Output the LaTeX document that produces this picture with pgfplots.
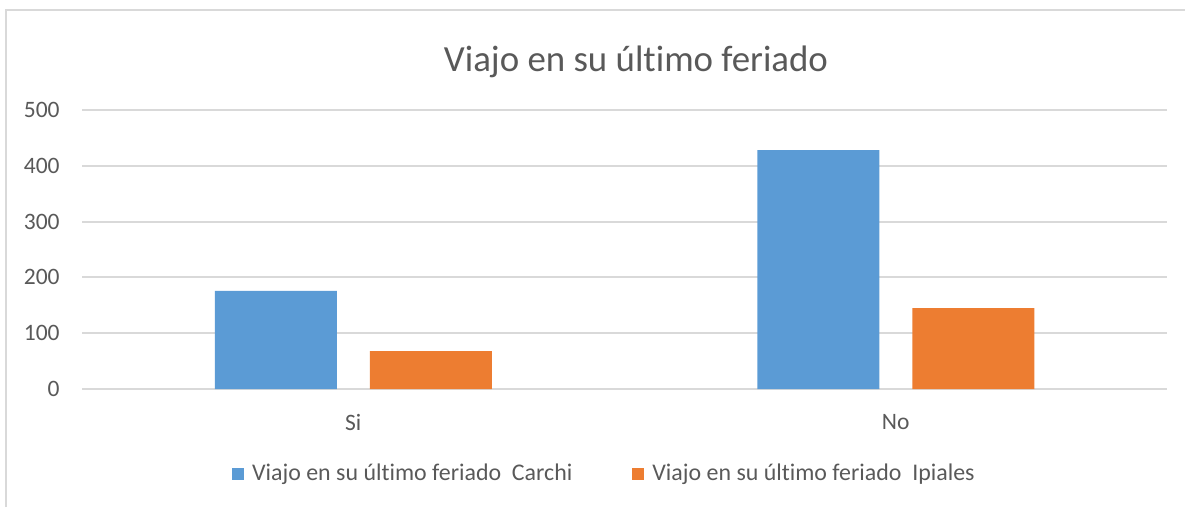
\documentclass[border=0pt]{standalone}
\usepackage{fontspec}
\setmainfont[Ligatures={NoCommon,NoContextual}]{Carlito}
\usepackage{pgfplots}
\pgfplotsset{compat=1.18}
\definecolor{cblue}{HTML}{5B9BD5}
\definecolor{corange}{HTML}{ED7D31}
\definecolor{gridc}{HTML}{D9D9D9}
\definecolor{txt}{HTML}{595959}
\newcommand{\ultimo}{últ\kern0pt imo}
\begin{document}
\begin{tikzpicture}[x=1bp,y=1bp]
\useasboundingbox (0,0) rectangle (592.5,253.5);
\draw[gridc, line width=1bp] (3,0) -- (3,248.5) -- (592.5,248.5);
\node[txt, inner sep=0pt, font=\fontsize{18.5}{22}\selectfont] at (318,222.5) {Viajo en su \ultimo{} feriado};
\begin{axis}[at={(41bp,59bp)}, anchor=south west, scale only axis,
  width=542.5bp, height=139.5bp,
  ybar=16.5bp, bar width=61bp,
  xmin=-0.5, xmax=1.5, ymin=0, ymax=500,
  xtick={0,1}, xticklabels={Si,No}, ytick={0,100,...,500},
  separate axis lines,
  axis x line*=bottom, axis y line*=left,
  y axis line style={draw=none},
  x axis line style={gridc, line width=1bp},
  major tick length=0pt,
  ymajorgrids, grid style={gridc, line width=1bp},
  tick label style={txt, font=\fontsize{11.8}{14}\selectfont},
  /pgf/number format/assume math mode=true,
  yticklabel style={inner sep=0pt, xshift=-11bp},
  xticklabel style={inner sep=0pt, yshift=-12.5bp},
  legend columns=2,
  legend style={draw=none, fill=none, at={(0.138,-0.305)}, anchor=west,
    font=\fontsize{12}{14}\selectfont, text=txt, inner sep=0pt,
    nodes={inner sep=0pt},
    /tikz/every odd column/.append style={column sep=4bp},
    /tikz/every even column/.append style={column sep=30bp}},
  legend image code/.code={\fill[#1,draw=none] (0bp,-3bp) rectangle (6bp,3bp);},
]
\addplot[fill=cblue, draw=none] coordinates {(0,176) (1,428)};
\addlegendentry{Viajo en su \ultimo{} feriado\ \ Carchi}
\addplot[fill=corange, draw=none] coordinates {(0,68) (1,145)};
\addlegendentry{Viajo en su \ultimo{} feriado\ \ Ipiales}
\end{axis}
\end{tikzpicture}
\end{document}
